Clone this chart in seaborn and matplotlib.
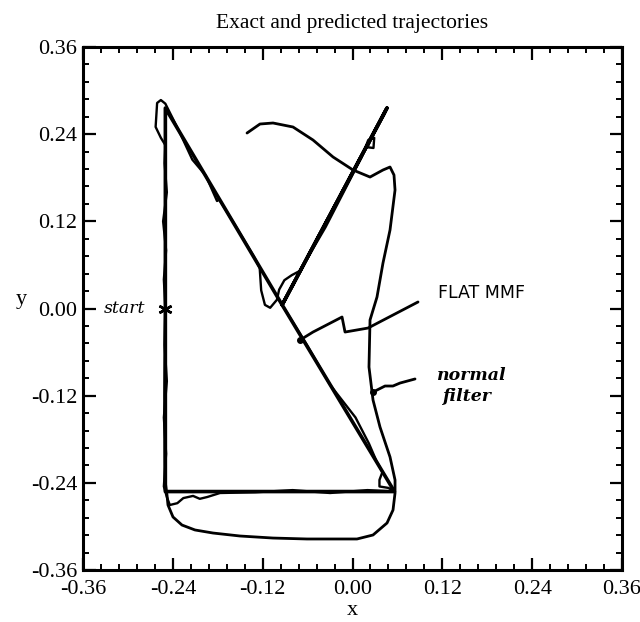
import numpy as np
import pandas as pd
import matplotlib
matplotlib.use("Agg")
import matplotlib.pyplot as plt
import seaborn as sns
from matplotlib.ticker import MultipleLocator, FormatStrFormatter

# exact trajectory (corners of the commanded path)
exact_x = [-0.250, -0.250, -0.094, 0.046, -0.094, 0.056, -0.250, -0.250]
exact_y = [0.000, 0.276, 0.005, 0.276, 0.005, -0.252, -0.252, 0.000]

# FLAT MMF estimate
mmf_x = [-0.250, -0.252, -0.249, -0.253, -0.248, -0.251, -0.250, -0.256, -0.263, -0.261,
         -0.256, -0.250, -0.232, -0.214, -0.196, -0.181, -0.178, -0.157, -0.132, -0.124,
         -0.122, -0.117, -0.110, -0.101, -0.098, -0.091, -0.081, -0.070, -0.036, -0.012,
         0.012, 0.016, 0.021, 0.029, 0.028, 0.020, 0.030, 0.046, 0.043, 0.030,
         -0.020, -0.060, -0.094, -0.061, -0.030, 0.004, 0.022, 0.032, 0.040, 0.036,
         0.036, 0.048, 0.056, 0.020, -0.030, -0.080, -0.130, -0.177, -0.194, -0.204,
         -0.213, -0.226, -0.234, -0.244, -0.248, -0.252, -0.249, -0.252, -0.248, -0.251,
         -0.250]
mmf_y = [0.000, 0.040, 0.080, 0.120, 0.160, 0.200, 0.225, 0.235, 0.250, 0.283,
         0.287, 0.282, 0.245, 0.205, 0.183, 0.148, 0.150, 0.115, 0.072, 0.056,
         0.025, 0.005, 0.001, 0.012, 0.026, 0.039, 0.046, 0.052, 0.112, 0.160,
         0.208, 0.218, 0.232, 0.235, 0.221, 0.222, 0.245, 0.276, 0.268, 0.243,
         0.148, 0.070, 0.005, -0.050, -0.105, -0.150, -0.186, -0.210, -0.225, -0.236,
         -0.245, -0.247, -0.252, -0.250, -0.254, -0.250, -0.253, -0.254, -0.2595, -0.262,
         -0.258, -0.261, -0.268, -0.2705, -0.2595, -0.245, -0.200, -0.150, -0.100, -0.050,
         0.000]

# normal filter estimate
nf_x = [-0.250, -0.251, -0.2505, -0.2478, -0.2465, -0.2398, -0.2278, -0.2104, -0.1863, -0.1503,
        -0.1062, -0.0608, 0.0060, 0.0274, 0.0461, 0.0541, 0.0568, 0.0568, 0.0501, 0.0367,
        0.0274, 0.0220, 0.0234, 0.0327, 0.0407, 0.0501, 0.0568, 0.0554, 0.0501, 0.0407,
        0.0234, 0.0007, -0.0260, -0.0528, -0.0795, -0.1062, -0.1236, -0.1409]
nf_y = [0.000, -0.120, -0.2361, -0.2568, -0.2705, -0.2870, -0.2981, -0.3049, -0.3091, -0.3132,
        -0.3160, -0.3173, -0.3173, -0.3118, -0.2953, -0.2774, -0.2540, -0.2361, -0.2044, -0.1631,
        -0.1260, -0.0805, -0.0158, 0.0158, 0.0626, 0.1081, 0.1631, 0.1838, 0.1948, 0.1907,
        0.1810, 0.1907, 0.2086, 0.2320, 0.2499, 0.2554, 0.2540, 0.2416]

# hand-drawn pointer lines for the labels
mmf_ptr_x = [0.0875, 0.0207, -0.010, -0.014, -0.0528, -0.0701]
mmf_ptr_y = [0.009, -0.0269, -0.0324, -0.0117, -0.0324, -0.0434]
nf_ptr_x = [0.0835, 0.0635, 0.054, 0.0434, 0.0274]
nf_ptr_y = [-0.097, -0.1026, -0.1067, -0.1067, -0.115]

start_x, start_y = [-0.250], [0.000]

tick_values = np.round(np.arange(-0.36, 0.361, 0.12), 2)

sns.set_theme(style="white")
plt.rcParams["font.family"] = ["Liberation Serif", "DejaVu Serif"]
plt.rcParams["axes.unicode_minus"] = False
for key in ("text.color", "axes.labelcolor", "xtick.color", "ytick.color"):
    plt.rcParams[key] = "black"

fig = plt.figure(figsize=(6.4, 6.22), dpi=100)
ax = fig.add_axes([0.1297, 0.0836, 0.8422, 0.8408])

def path(x, y, lw):
    df = pd.DataFrame({"x": x, "y": y})
    sns.lineplot(data=df, x="x", y="y", sort=False, estimator=None,
                 color="black", linewidth=lw, ax=ax)

path(exact_x, exact_y, 2.6)
path(mmf_x, mmf_y, 1.7)
path(nf_x, nf_y, 2.0)
path(mmf_ptr_x, mmf_ptr_y, 2.0)
path(nf_ptr_x, nf_ptr_y, 2.0)
ax.plot(mmf_ptr_x[-1], mmf_ptr_y[-1], "o", color="black", ms=4)
ax.plot(nf_ptr_x[-1], nf_ptr_y[-1], "o", color="black", ms=4)
ax.plot(start_x, start_y, marker=(6, 2, 0), color="black", ms=10, mew=1.8)

ax.text(-0.304, 0.0, "start", style="italic", fontsize=12.5,
        family=["DejaVu Serif"], ha="center", va="center")
ax.text(0.172, 0.021, "FLAT MMF", fontsize=12.5, family=["DejaVu Sans"],
        ha="center", va="center")
ax.text(0.158, -0.092, "normal", style="italic", fontsize=12.5,
        family=["DejaVu Serif"], ha="center", va="center", weight="bold")
ax.text(0.152, -0.121, "filter", style="italic", fontsize=12.5,
        family=["DejaVu Serif"], ha="center", va="center", weight="bold")

ax.set_xlim(-0.36, 0.36)
ax.set_ylim(-0.36, 0.36)
ax.set_xticks(tick_values)
ax.set_yticks(tick_values)
ax.xaxis.set_minor_locator(MultipleLocator(0.024))
ax.yaxis.set_minor_locator(MultipleLocator(0.024))
ax.xaxis.set_major_formatter(FormatStrFormatter("%.2f"))
ax.yaxis.set_major_formatter(FormatStrFormatter("%.2f"))
ax.tick_params(which="both", direction="in", top=True, right=True,
               bottom=True, left=True, labelsize=16)
ax.tick_params(axis="x", pad=7)
ax.tick_params(axis="y", pad=4)
ax.tick_params(which="major", length=9, width=1.6)
ax.tick_params(which="minor", length=4, width=1.4)
for s in ax.spines.values():
    s.set_color("black")
    s.set_linewidth(2.2)

ax.set_xlabel("x", fontsize=16)
ax.xaxis.label.set_va("center")
ax.xaxis.set_label_coords(0.5, -0.077)
ax.set_ylabel("y", fontsize=16, rotation=0)
ax.yaxis.set_label_coords(-0.115, 0.5)
ax.set_title("Exact and predicted trajectories", fontsize=15.5, pad=14)

fig.savefig("out.png", dpi=100, facecolor="white")
